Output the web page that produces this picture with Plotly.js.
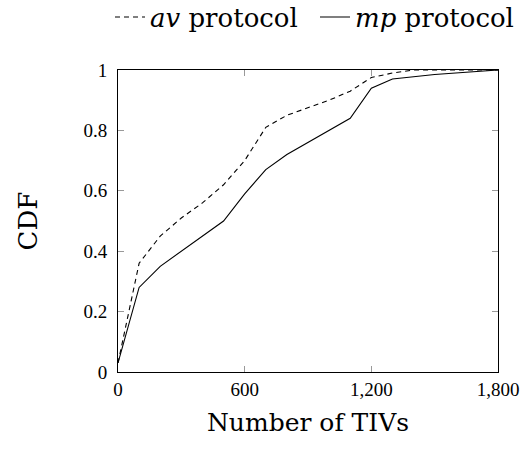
<!DOCTYPE html>
<html>
<head>
<meta charset="utf-8">
<script src="https://cdn.plot.ly/plotly-3.0.1.min.js"></script>
<style>html,body{margin:0;padding:0;background:#fff;}#chart{width:525px;height:452px;}</style>
</head>
<body>
<div id="chart"></div>
<script>
const avX = [0, 100, 200, 300, 400, 500, 600, 700, 800, 1000, 1100, 1200, 1300, 1400, 1800];
const avY = [0.03, 0.36, 0.45, 0.51, 0.56, 0.62, 0.70, 0.81, 0.85, 0.90, 0.93, 0.975, 0.99, 1.0, 1.0];
const mpX = [0, 100, 200, 300, 400, 500, 600, 700, 800, 1000, 1100, 1200, 1300, 1500, 1800];
const mpY = [0.03, 0.28, 0.35, 0.40, 0.45, 0.50, 0.59, 0.67, 0.72, 0.80, 0.84, 0.94, 0.97, 0.985, 1.0];
const xTicks = [0, 600, 1200, 1800];
const xTickLabels = ["0", "600", "1,200", "1,800"];
const yTicks = [0, 0.2, 0.4, 0.6, 0.8, 1];
const yTickLabels = ["0", "0.2", "0.4", "0.6", "0.8", "1"];
const seriesNames = ["<i>av</i> protocol", "<i>mp</i> protocol"];

const tickFont = "Liberation Serif";
const titleFont = "DejaVu Serif";
const traces = [
  {x: avX, y: avY, name: seriesNames[0], type: 'scatter', mode: 'lines', legend: 'legend',
   line: {color: '#000', width: 1.1, dash: '5px,4px'}},
  {x: mpX, y: mpY, name: seriesNames[1], type: 'scatter', mode: 'lines', legend: 'legend2',
   line: {color: '#000', width: 1.1}}
];
const legendBase = {orientation: 'h', yanchor: 'middle', y: 1.175, xanchor: 'left',
  font: {family: titleFont, size: 26, color: '#000'}, bgcolor: 'rgba(0,0,0,0)',
  borderwidth: 0, itemwidth: 30};
const layout = {
  width: 525, height: 452,
  margin: {l: 118, r: 27, t: 70, b: 80, autoexpand: false},
  paper_bgcolor: '#fff', plot_bgcolor: '#fff',
  font: {family: tickFont, color: '#000', size: 19},
  showlegend: true,
  legend: Object.assign({}, legendBase, {x: (110 - 118) / 380}),
  legend2: Object.assign({}, legendBase, {x: (315 - 118) / 380}),
  xaxis: {range: [0, 1800], tickvals: xTicks, ticktext: xTickLabels,
          ticks: 'inside', ticklen: 6, tickcolor: '#999', tickwidth: 1,
          showline: true, linecolor: '#000', linewidth: 1, mirror: 'ticks',
          showgrid: false, zeroline: false, ticklabelstandoff: 0,
          tickfont: {family: tickFont, size: 19, color: '#000'},
          title: {text: 'Number of TIVs', font: {family: titleFont, size: 25, color: '#000'}, standoff: 14}},
  yaxis: {range: [0, 1], tickvals: yTicks, ticktext: yTickLabels,
          ticks: 'inside', ticklen: 6, tickcolor: '#999', tickwidth: 1,
          showline: true, linecolor: '#000', linewidth: 1, mirror: 'ticks',
          showgrid: false, zeroline: false, ticklabelstandoff: 6,
          tickfont: {family: tickFont, size: 19, color: '#000'},
          title: {text: 'CDF', font: {family: titleFont, size: 26, color: '#000'}, standoff: 38}}
};
Plotly.newPlot('chart', traces, layout, {displayModeBar: false, staticPlot: true});
</script>
</body>
</html>
